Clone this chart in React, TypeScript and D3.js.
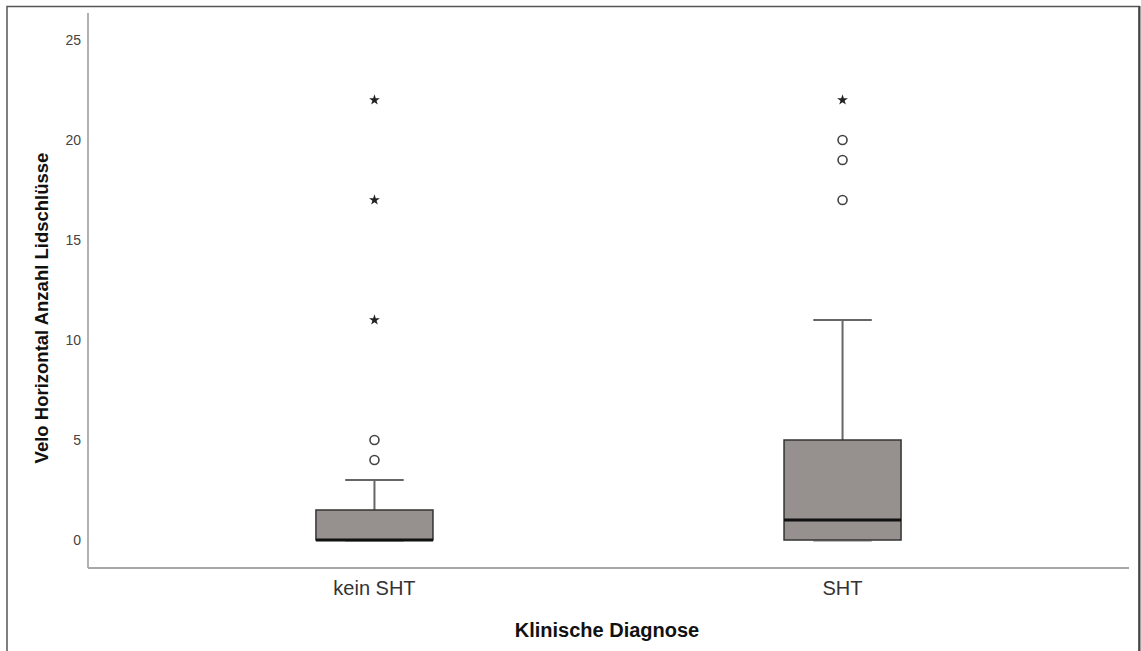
import React, { useEffect, useRef } from 'react';
import * as d3 from 'd3';

const categories = ['kein SHT', 'SHT'];
const q1 = [0, 0];
const median = [0, 1];
const q3 = [1.5, 5];
const whiskerLow = [0, 0];
const whiskerHigh = [3, 11];
// circles = outliers, stars = extreme values
const outliers = [[4, 5], [17, 19, 20]];
const extremes = [[11, 17, 22], [22]];
const yTicks = [0, 5, 10, 15, 20, 25];

const W = 1141;
const H = 651;

const App = () => {
  const ref = useRef<SVGSVGElement>(null);

  useEffect(() => {
    const svg = d3.select(ref.current);
    svg.selectAll('*').remove();

    const left = 88, right = 1129, top = 13, bottom = 568;

    const x = d3.scalePoint<string>()
      .domain(categories)
      .range([left, right])
      .padding(0.612);

    const y = d3.scaleLinear()
      .domain([-1.4, 26.35])
      .range([bottom, top]);

    const step = x.step();
    const boxW = step * 0.25;
    const capW = boxW / 2;

    // frame
    svg.append('rect')
      .attr('x', 7).attr('y', 6.5)
      .attr('width', 1132).attr('height', 660)
      .attr('fill', 'white')
      .attr('stroke', '#555')
      .attr('stroke-width', 1.5);
    svg.append('line')
      .attr('x1', 1139.5).attr('x2', 1139.5)
      .attr('y1', 6).attr('y2', H)
      .attr('stroke', '#444').attr('stroke-width', 2);

    // axes
    svg.append('line')
      .attr('x1', left).attr('x2', left)
      .attr('y1', top).attr('y2', bottom)
      .attr('stroke', '#888').attr('stroke-width', 1.3);
    svg.append('line')
      .attr('x1', left).attr('x2', right)
      .attr('y1', bottom).attr('y2', bottom)
      .attr('stroke', '#a8a8a8').attr('stroke-width', 2);

    const font = 'Arial, "Liberation Sans", sans-serif';

    svg.append('g')
      .selectAll('text')
      .data(yTicks)
      .join('text')
      .attr('x', 81)
      .attr('y', d => y(d))
      .attr('dy', '0.35em')
      .attr('text-anchor', 'end')
      .attr('font-family', font)
      .attr('font-size', 14)
      .attr('fill', '#444')
      .text(d => d);

    svg.append('g')
      .selectAll('text')
      .data(categories)
      .join('text')
      .attr('x', d => x(d)!)
      .attr('y', 595)
      .attr('text-anchor', 'middle')
      .attr('font-family', font)
      .attr('font-size', 20)
      .attr('fill', '#333')
      .text(d => d);

    svg.append('text')
      .attr('x', 607).attr('y', 637)
      .attr('text-anchor', 'middle')
      .attr('font-family', font)
      .attr('font-size', 20)
      .attr('font-weight', 'bold')
      .attr('fill', '#111')
      .text('Klinische Diagnose');

    svg.append('text')
      .attr('transform', 'translate(48,308) rotate(-90)')
      .attr('text-anchor', 'middle')
      .attr('font-family', font)
      .attr('font-size', 18.5)
      .attr('font-weight', 'bold')
      .attr('fill', '#111')
      .text('Velo Horizontal Anzahl Lidschlüsse');

    categories.forEach((c, i) => {
      const cx = x(c)!;
      const g = svg.append('g');

      // whiskers
      g.append('line')
        .attr('x1', cx).attr('x2', cx)
        .attr('y1', y(q3[i])).attr('y2', y(whiskerHigh[i]))
        .attr('stroke', '#666').attr('stroke-width', 2);
      g.append('line')
        .attr('x1', cx - capW / 2).attr('x2', cx + capW / 2)
        .attr('y1', y(whiskerHigh[i])).attr('y2', y(whiskerHigh[i]))
        .attr('stroke', '#666').attr('stroke-width', 2);
      g.append('line')
        .attr('x1', cx - capW / 2).attr('x2', cx + capW / 2)
        .attr('y1', y(whiskerLow[i]) + 1).attr('y2', y(whiskerLow[i]) + 1)
        .attr('stroke', '#bbb').attr('stroke-width', 2);

      // box
      g.append('rect')
        .attr('x', cx - boxW / 2)
        .attr('y', y(q3[i]))
        .attr('width', boxW)
        .attr('height', y(q1[i]) - y(q3[i]))
        .attr('fill', '#96908f')
        .attr('stroke', '#333')
        .attr('stroke-width', 1.5);

      g.append('line')
        .attr('x1', cx - boxW / 2).attr('x2', cx + boxW / 2)
        .attr('y1', y(median[i])).attr('y2', y(median[i]))
        .attr('stroke', '#111').attr('stroke-width', 3);

      g.selectAll('circle')
        .data(outliers[i])
        .join('circle')
        .attr('cx', cx)
        .attr('cy', d => y(d))
        .attr('r', 4.5)
        .attr('fill', 'white')
        .attr('stroke', '#444')
        .attr('stroke-width', 1.6);

      const star = d3.symbol().type(d3.symbolStar).size(36);
      g.selectAll('path.star')
        .data(extremes[i])
        .join('path')
        .attr('class', 'star')
        .attr('transform', d => `translate(${cx},${y(d)})`)
        .attr('d', star)
        .attr('fill', '#222');
    });
  }, []);

  return (
    <svg
      ref={ref}
      width={W}
      height={H}
      style={{ position: 'absolute', left: 0, top: 0, background: 'white' }}
    />
  );
};

export default App;
